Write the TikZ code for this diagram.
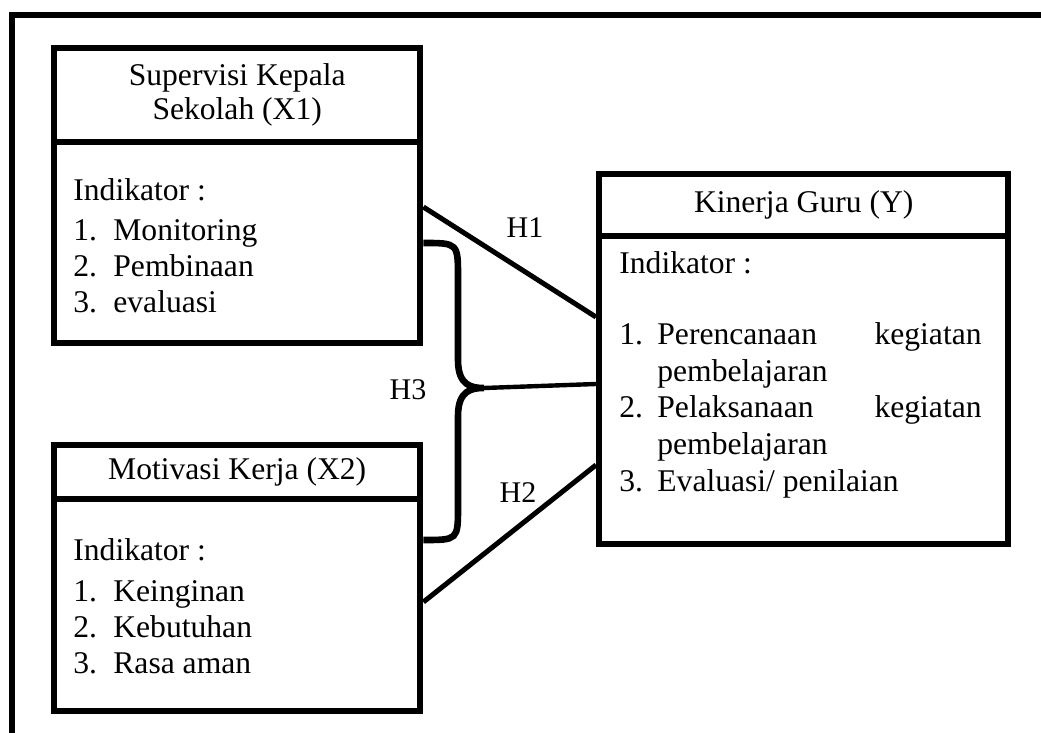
\documentclass[tikz,border=0pt]{standalone}
\usepackage{fontspec}
\setmainfont{Liberation Serif}
\usetikzlibrary{positioning, calc}

\tikzset{
  box/.style={draw, line width=3.2pt, inner sep=0pt, align=center, minimum width=183pt, anchor=north west},
  txt/.style={inner sep=0pt, anchor=base west},
  link/.style={line width=2.5pt},
  hlabel/.style={font=\fontsize{15}{18}\selectfont, inner sep=0pt},
}

\begin{document}
\begin{tikzpicture}[x=0.5pt, y=-0.5pt, font=\fontsize{15.8}{17}\selectfont]
  \useasboundingbox (0,0) rectangle (1041,733);
  % --- Cadre ---
  \draw[line width=3pt] (12,750) -- (12,15) -- (1060,15);
  % --- Supervisi Kepala Sekolah (X1) ---
  \node[box, minimum height=47pt] (x1head) at (51,45) {Supervisi Kepala\\Sekolah (X1)};
  \node[box, minimum height=100.5pt] (x1body) at (51,139) {};
  \node[txt] (x1ind) at (73,201) {Indikator :};
  \foreach \t [count=\i] in {Monitoring, Pembinaan, evaluasi}
    \node[txt] (x1n\i) at (73,205+36*\i) {\i.} node[txt] (x1i\i) at (113,205+36*\i) {\t};
  % --- Motivasi Kerja (X2) ---
  \node[box, minimum height=27pt] (x2head) at (51,442) {Motivasi Kerja (X2)};
  \node[box, minimum height=106pt] (x2body) at (51,496) {};
  \node[txt] (x2ind) at (73,560) {Indikator :};
  \foreach \t [count=\i] in {Keinginan, Kebutuhan, Rasa aman}
    \node[txt] (x2n\i) at (73,565+36*\i) {\i.} node[txt] (x2i\i) at (113,565+36*\i) {\t};
  % --- Kinerja Guru (Y) ---
  \node[box, minimum width=204.5pt, minimum height=31pt] (yhead) at (596,171) {Kinerja Guru (Y)};
  \node[box, minimum width=204.5pt, minimum height=154pt] (ybody) at (596,233) {};
  \node[txt] (yind) at (619,274) {Indikator :};
  \node[txt] (yn1) at (619,344) {1.};
  \node[txt] (yi1) at (657,344) {Perencanaan};
  \node[txt, anchor=base east] (yk1) at (982,344) {kegiatan};
  \node[txt] (yp1) at (657,381) {pembelajaran};
  \node[txt] (yn2) at (619,418) {2.};
  \node[txt] (yi2) at (657,418) {Pelaksanaan};
  \node[txt, anchor=base east] (yk2) at (982,418) {kegiatan};
  \node[txt] (yp2) at (657,455) {pembelajaran};
  \node[txt] (yn3) at (619,492) {3.};
  \node[txt] (yi3) at (657,492) {Evaluasi/ penilaian};
  % --- Points d'attache ---
  \coordinate (h1a) at ($(x1body.north east)+(0,68)$);
  \coordinate (h1b) at ($(ybody.north west)+(0,84)$);
  \coordinate (h2a) at ($(x2body.north east)+(0,106)$);
  \coordinate (h2b) at ($(ybody.north west)+(0,232)$);
  \coordinate (h3a) at ($(x1body.north east)+(0,104)$);
  \coordinate (h3b) at ($(x2body.north east)+(0,44)$);
  \coordinate (h3c) at ($(ybody.north west)+(0,151)$);
  \coordinate (h3tip) at (484,388);
  % --- Liens H1, H2, H3 ---
  \draw[link] (h1a) -- (h1b);
  \draw[link] (h2a) -- (h2b);
  \draw[line width=3.3pt] (h3a) .. controls (458,243) .. (458,278) -- (458,360)
    .. controls (458,386) and (472,388) .. (h3tip)
    .. controls (472,388) and (458,390) .. (458,416) -- (458,506)
    .. controls (458,540) .. (h3b);
  \draw[line width=2.2pt] (h3tip) -- (h3c);
  \node[hlabel] (h1) at (525,228) {H1};
  \node[hlabel] (h3) at (408,390) {H3};
  \node[hlabel] (h2) at (518,493) {H2};
\end{tikzpicture}
\end{document}
